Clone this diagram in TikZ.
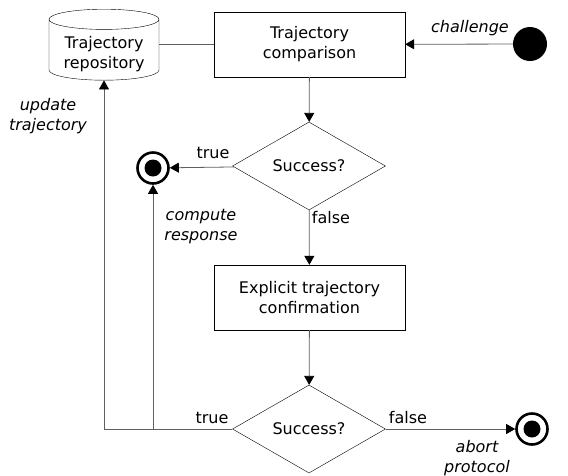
\documentclass[tikz,border=0pt]{standalone}
\usepackage{fontspec}
\setmainfont{DejaVu Sans}
\usetikzlibrary{arrows.meta,shapes.geometric,positioning}

\begin{document}
\begin{tikzpicture}[x=1pt, y=-1pt,
    >={Triangle[length=9pt,width=10pt,color=black]},
    every node/.style={font=\fontsize{16}{20}\selectfont},
    act/.style={draw, minimum width=191pt, minimum height=65pt, align=center, inner sep=0pt},
    repo/.style={draw, cylinder, shape border rotate=90, aspect=0.25, minimum width=110pt, minimum height=71pt, inner sep=0pt},
    choice/.style={draw, diamond, aspect=1.74, minimum width=153pt, minimum height=88pt, inner sep=0pt},
    startdot/.style={circle, fill, minimum size=34pt, inner sep=0pt},
    enddot/.style={circle, draw, line width=2.6pt, minimum size=31pt, inner sep=0pt},
    note/.style={font=\fontsize{16}{20}\selectfont\itshape, align=center},
    flow/.style={draw=gray!75!black, line width=0.8pt}]
    %% Background
    \useasboundingbox (0,0) rectangle (568,475);

    %% Activities
    \node[repo, anchor=north] (repo) at (104,9)
        {\raisebox{-9pt}[0pt][0pt]{\begin{tabular}{@{}c@{}}Trajectory\\repository\end{tabular}}};
    \node[act] (comp) at (309.5,44.5) {Trajectory\\comparison};
    \node[choice] (check1) at (309,166) {Success?};
    \node[act] (confirm) at (309.5,297.5) {Explicit trajectory\\confirmation};
    \node[choice] (check2) at (309,429) {Success?};

    %% Start and end points
    \node[startdot] (start) at (530,44) {};
    \node[enddot] (accept) at (153,168) {};
    \fill (accept) circle (8.5pt);
    \node[enddot] (abort) at (532,429) {};
    \fill (abort) circle (8.5pt);
    \coordinate (fork) at (accept |- check2.west);

    %% Flow
    \draw[flow] (repo.east |- comp.west) -- (comp.west);
    \draw[flow, ->] (start) -- (comp);
    \draw[flow, ->] (comp) -- (check1);
    \draw[flow, ->] (check1) -- (accept);
    \draw[flow, ->] (check1) -- (confirm);
    \draw[flow, ->] (confirm) -- (check2);
    \draw[flow, ->] (check2.west) -| (repo.south);
    \draw[flow, ->] (fork) -- (accept);
    \draw[flow, ->] (check2) -- (abort);

    %% Notes
    \node[note] (challenge) at (470,28) {challenge};
    \node (true1) at (213,153) {true};
    \node (false1) at (331,218) {false};
    \node[note] (compute) at (201,227) {compute\\response};
    \node[note] (update) at (48,116) {update\\trajectory};
    \node (true2) at (212,418) {true};
    \node (false2) at (408,418) {false};
    \node[note] (abortlbl) at (477,458) {abort\\protocol};
\end{tikzpicture}
\end{document}
